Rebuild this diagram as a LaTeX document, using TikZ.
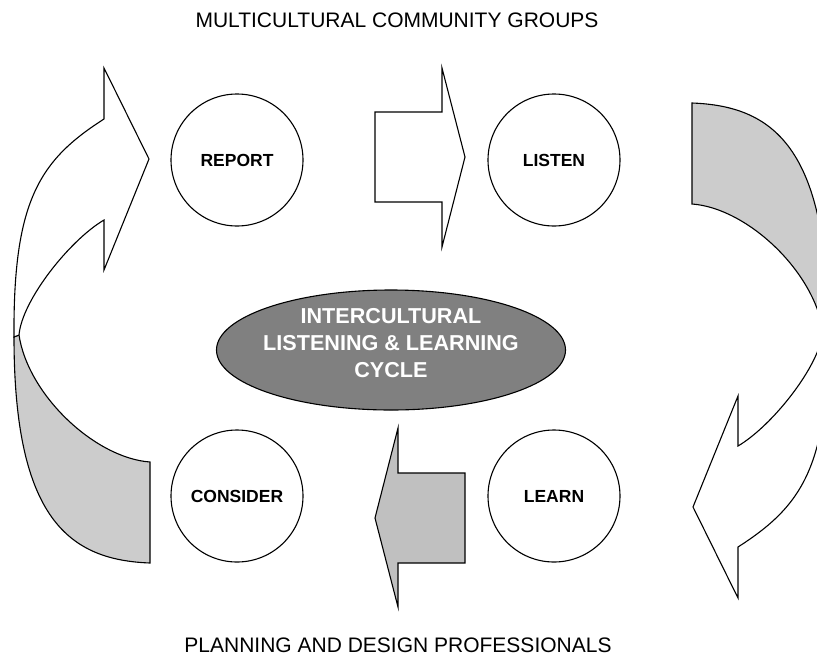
\documentclass[tikz,border=0pt]{standalone}
\usepackage{fontspec}
\setmainfont{Liberation Sans}
\usetikzlibrary{shapes.geometric}
\definecolor{backgray}{RGB}{204,204,204}
\definecolor{arrowgray}{RGB}{192,192,192}
\definecolor{hubgray}{RGB}{128,128,128}

\begin{document}
\begin{tikzpicture}[x=1pt,y=-1pt,line width=1.1pt,
		stage/.style={circle,draw,minimum size=132pt,inner sep=0pt,
			font=\fontsize{17.5}{21}\selectfont\bfseries},
		caption/.style={font=\fontsize{21}{25}\selectfont}]
		\useasboundingbox (0,0) rectangle (817,665);
		\fill[white] (0,0) rectangle (817,665);
		\clip (0,0) rectangle (817,665);
		\def\backpart{(14,337) .. controls (14,520) and (70,560) .. (150,563)
			-- (150,462) .. controls (95,458) and (28,395) .. (19,335) -- cycle}
		\def\frontpart{(104,68) -- (149,159) -- (104,270) -- (104,220)
			.. controls (70,240) and (22,300) .. (19,335) -- (14,337)
			.. controls (13,200) and (40,160) .. (104,119) -- cycle}
		\def\flatarrow{(375,112) -- (442,112) -- (442,68) -- (465,157)
			-- (442,247) -- (442,202) -- (375,202) -- cycle}
		\filldraw[fill=backgray] \backpart;
		\filldraw[fill=white] \frontpart;
		\begin{scope}[rotate around={180:(421,333)}]
			\filldraw[fill=backgray] \backpart;
			\filldraw[fill=white] \frontpart;
		\end{scope}
		\filldraw[fill=white] \flatarrow;
		\filldraw[fill=arrowgray,rotate around={180:(420,337.5)}] \flatarrow;
		\node[stage] (report) at (237,160) {REPORT};
		\node[stage] (listen) at (554,160) {LISTEN};
		\node[stage] (consider) at (237,496) {CONSIDER};
		\node[stage] (learn) at (554,496) {LEARN};
		\node[ellipse,draw,fill=hubgray,minimum width=349pt,minimum height=120pt,
		inner sep=0pt] (hub) at (391,350) {};
		\node[align=center,text=white,font=\fontsize{21.6}{27}\selectfont\bfseries]
		(hublabel) at (391,343) {INTERCULTURAL\\LISTENING \& LEARNING\\CYCLE};
		\node[caption] (groups) at (397,20) {MULTICULTURAL COMMUNITY GROUPS};
		\node[caption] (planners) at (398,645) {PLANNING AND DESIGN PROFESSIONALS};
	\end{tikzpicture}
\end{document}
